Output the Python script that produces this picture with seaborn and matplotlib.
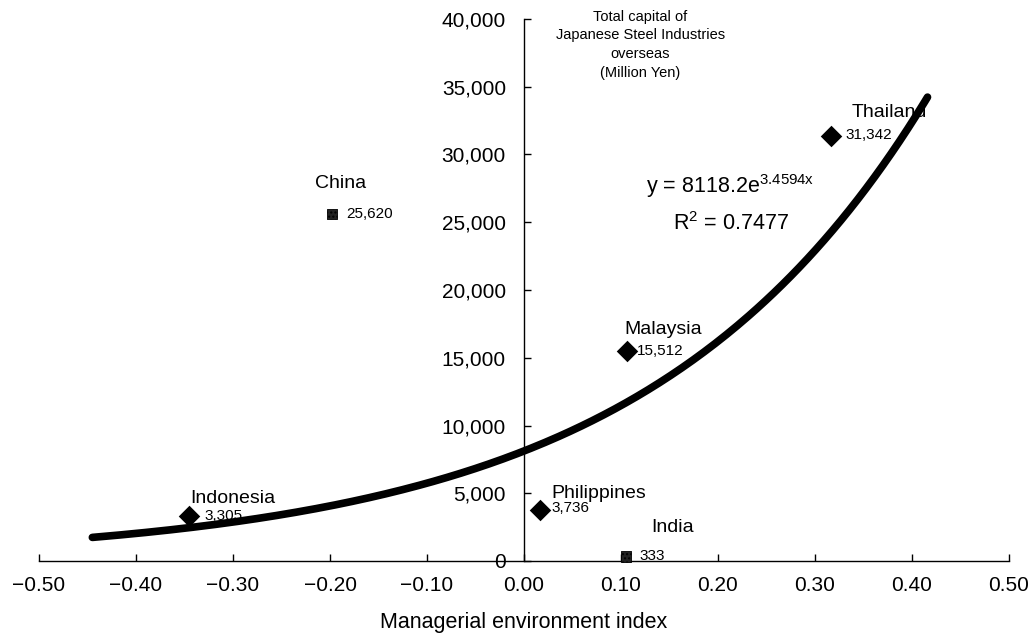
import numpy as np
import pandas as pd
import matplotlib
matplotlib.use("Agg")
import matplotlib.pyplot as plt
import seaborn as sns
from matplotlib.ticker import FuncFormatter, MultipleLocator

# data
countries = ["Indonesia", "Philippines", "Malaysia", "Thailand", "China", "India"]
env_index = [-0.345, 0.017, 0.106, 0.316, -0.198, 0.105]
capital = [3305, 3736, 15512, 31342, 25620, 333]
group = ["fit", "fit", "fit", "fit", "other", "other"]

# exponential trendline shown on the chart
fit_a = 8118.2
fit_b = 3.4594
fit_r2 = 0.7477
fit_range = (-0.445, 0.416)

# label offsets in points (name, value) relative to each marker
name_offset = {"Indonesia": (1, 13), "Philippines": (8, 12), "Malaysia": (-2, 15),
               "Thailand": (15, 17), "China": (-12, 22), "India": (18, 21)}
value_offset = {"Indonesia": (11, 0), "Philippines": (8, 2), "Malaysia": (7, 0),
                "Thailand": (11, 1), "China": (10, 0), "India": (10, 0)}

df = pd.DataFrame({"country": countries, "x": env_index, "y": capital, "group": group})

xs = np.linspace(fit_range[0], fit_range[1], 300)
trend = pd.DataFrame({"x": xs, "y": fit_a * np.exp(fit_b * xs)})

sns.set_style("white")
plt.rcParams['font.family'] = ['Liberation Sans', 'DejaVu Sans']
plt.rcParams['hatch.color'] = 'white'
for key in ['text.color', 'axes.labelcolor', 'xtick.color', 'ytick.color']:
    plt.rcParams[key] = 'black'

fig = plt.figure(figsize=(10.32, 6.39), dpi=100)
ax = fig.add_axes([39 / 1032, 1 - 561 / 639, 970 / 1032, 542 / 639])

sns.lineplot(data=trend, x="x", y="y", ax=ax, color="black", linewidth=5.5, zorder=2)

main = df[df["group"] == "fit"]
other = df[df["group"] == "other"]
sns.scatterplot(data=main, x="x", y="y", ax=ax, marker="D", s=120, color="black",
                edgecolor="black", linewidth=0, zorder=3, clip_on=False)
sns.scatterplot(data=other, x="x", y="y", ax=ax, marker="s", s=55, color="#222222",
                edgecolor="black", linewidth=0.6, zorder=3, clip_on=False)
for coll in ax.collections[-1:]:
    coll.set_hatch("....")

for _, r in df.iterrows():
    ax.annotate(r["country"], (r["x"], r["y"]), xytext=name_offset[r["country"]],
                textcoords="offset points", fontsize=14, ha="left", va="center",
                annotation_clip=False)
    ax.annotate(f"{r['y']:,.0f}", (r["x"], r["y"]), xytext=value_offset[r["country"]],
                textcoords="offset points", fontsize=11, ha="left", va="center",
                annotation_clip=False)

# trendline equation
ax.text(0.213, 27650, f"y = {fit_a}e$^{{\\mathregular{{{fit_b}x}}}}$",
        fontsize=15.5, ha="center", va="center")
ax.text(0.213, 24900, f"R$^{{\\mathregular{{2}}}}$ = {fit_r2}",
        fontsize=15.5, ha="center", va="center")

# y axis title next to the spine
ax.text(0.12, 40700, "Total capital of\nJapanese Steel Industries\noverseas\n(Million Yen)",
        fontsize=10.5, ha="center", va="top", linespacing=1.45)

ax.set_xlim(-0.5, 0.5)
ax.set_ylim(0, 40000)
ax.spines["left"].set_position(("data", 0))
ax.spines["bottom"].set_position(("data", 0))
ax.spines["top"].set_visible(False)
ax.spines["right"].set_visible(False)
for s in ["left", "bottom"]:
    ax.spines[s].set_linewidth(1.0)
    ax.spines[s].set_color("black")

ax.xaxis.set_major_locator(MultipleLocator(0.1))
ax.yaxis.set_major_locator(MultipleLocator(5000))
ax.xaxis.set_major_formatter(FuncFormatter(lambda v, p: f"{v:.2f}".replace("-", "\u2212")))
ax.yaxis.set_major_formatter(FuncFormatter(lambda v, p: f"{v:,.0f}"))
ax.tick_params(axis="x", bottom=True, direction="in", length=5, width=1, pad=11,
               labelsize=15, color="black")
ax.tick_params(axis="y", left=True, direction="in", length=5, width=1, pad=13,
               labelsize=15, color="black")

ax.set_xlabel("Managerial environment index", fontsize=15.5, labelpad=12)
ax.set_ylabel("")

fig.savefig("out.png", dpi=100)
